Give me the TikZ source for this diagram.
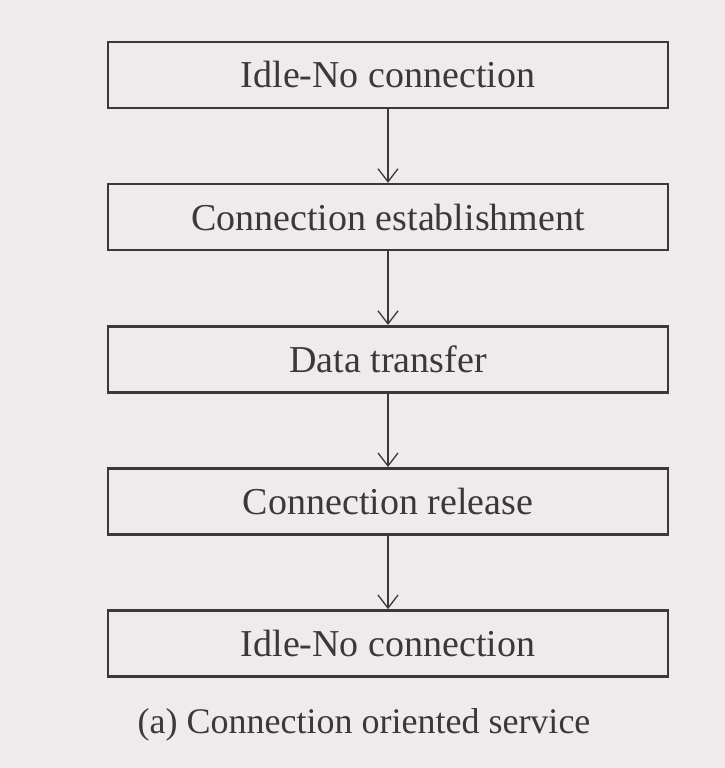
\documentclass[tikz,border=0pt]{standalone}
\usepackage{fontspec}
\setmainfont{Liberation Serif}
\usetikzlibrary{positioning,arrows.meta}
\definecolor{scanbg}{RGB}{239,235,237}
\definecolor{ink}{RGB}{58,56,58}
\tikzset{
  state/.style={draw=ink, line width=2.6pt, minimum width=560pt, minimum height=66pt,
    inner sep=0pt, text=ink, font=\fontsize{38}{38}\selectfont},
  flow/.style={draw=ink, line width=1.3pt, -{Straight Barb[length=13pt,width=20pt,line width=1.3pt]}}
}
\begin{document}
\begin{tikzpicture}[x=1pt,y=1pt, node distance=73.5pt]
\fill [scanbg] (0,0) rectangle (725,-768);
\useasboundingbox (0,0) rectangle (725,-768);
\node [state] (idleA) at (388,-75) {Idle-No connection};
\node [state, below=of idleA] (estab) {Connection establishment};
\node [state, below=of estab] (data) {Data transfer};
\node [state, below=of data] (release) {Connection release};
\node [state, below=of release] (idleB) {Idle-No connection};
\node [text=ink, font=\fontsize{36}{36}\selectfont, below=27pt of idleB, xshift=-24pt] (caption) {(a) Connection oriented service};
\draw [flow] (idleA) -- (estab);
\draw [flow] (estab) -- (data);
\draw [flow] (data) -- (release);
\draw [flow] (release) -- (idleB);
\end{tikzpicture}
\end{document}
